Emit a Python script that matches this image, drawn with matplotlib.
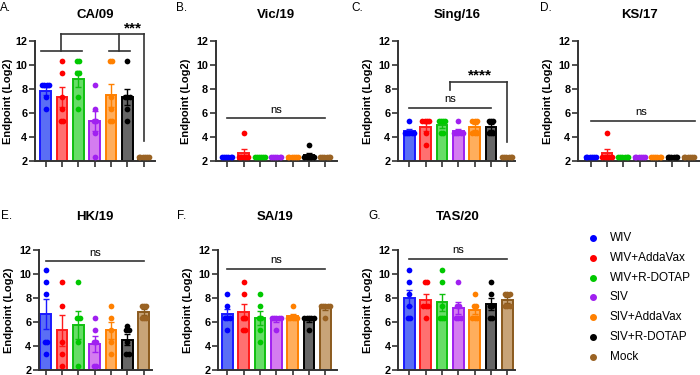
import numpy as np
import matplotlib
matplotlib.use("Agg")
import matplotlib.pyplot as plt
from matplotlib.lines import Line2D

plt.rcParams['font.family'] = ['Liberation Sans', 'DejaVu Sans']

groups = ["WIV", "WIV+AddaVax", "WIV+R-DOTAP", "SIV", "SIV+AddaVax", "SIV+R-DOTAP", "Mock"]
dot_colors = ["#0000ff", "#ff0000", "#00c800", "#a020f0", "#ff8000", "#000000", "#9a6324"]
fill_colors = ["#5a6ef5", "#ff7070", "#66dd66", "#d47cf0", "#ffae5c", "#666666", "#c8a478"]
edge_colors = ["#1a1aff", "#ff1a1a", "#10c010", "#a020f0", "#ff8000", "#000000", "#8b5a1e"]

titles = ["CA/09", "Vic/19", "Sing/16", "KS/17", "HK/19", "SA/19", "TAS/20"]
letters = ["A.", "B.", "C.", "D.", "E.", "F.", "G."]

ca09 = [[8.32, 8.32, 8.32, 8.32, 6.32, 7.32],
        [10.32, 9.32, 6.32, 5.32, 5.32, 7.32],
        [10.32, 10.32, 9.32, 9.32, 7.32, 6.32],
        [8.32, 6.32, 5.32, 4.32, 2.32, 5.32],
        [10.32, 10.32, 6.32, 5.32, 5.32, 7.32],
        [10.32, 7.32, 7.32, 6.32, 5.32, 7.32],
        [2.32, 2.32, 2.32, 2.32, 2.32, 2.32]]
vic19 = [[2.32] * 6,
         [4.32, 2.32, 2.32, 2.32, 2.32, 2.32],
         [2.32] * 6,
         [2.32] * 6,
         [2.32] * 6,
         [3.32, 2.32, 2.32, 2.32, 2.32, 2.32],
         [2.32] * 6]
sing16 = [[5.32, 4.32, 4.32, 4.32, 4.32, 4.32],
          [5.32, 5.32, 5.32, 5.32, 4.32, 3.32],
          [5.32, 5.32, 5.32, 5.32, 4.32, 4.32],
          [5.32, 4.32, 4.32, 4.32, 4.32, 4.32],
          [5.32, 5.32, 5.32, 4.32, 4.32, 4.32],
          [5.32, 5.32, 5.32, 4.32, 4.32, 4.32],
          [2.32] * 6]
ks17 = [[2.32] * 6,
        [4.32, 2.32, 2.32, 2.32, 2.32, 2.32],
        [2.32] * 6,
        [2.32] * 6,
        [2.32] * 6,
        [2.32] * 6,
        [2.32] * 6]
hk19 = [[10.32, 9.32, 8.32, 4.32, 4.32, 3.32],
        [9.32, 7.32, 4.32, 3.32, 2.32],
        [9.32, 6.32, 6.32, 4.32, 2.32],
        [6.32, 5.32, 4.32, 4.32, 2.32, 2.32],
        [7.32, 6.32, 5.32, 4.32, 3.32],
        [5.65, 5.32, 5.32, 4.32, 3.32, 3.32],
        [7.32, 7.32, 7.32, 6.32, 6.32, 6.32]]
sa19 = [[8.32, 7.32, 6.32, 6.32, 6.32, 5.32],
        [9.32, 8.32, 6.32, 6.32, 5.32, 5.32],
        [8.32, 7.32, 6.32, 6.32, 5.32, 4.32],
        [6.32, 6.32, 6.32, 6.32, 6.32, 5.32],
        [7.32, 6.32, 6.32, 6.32, 6.32, 6.32],
        [6.32, 6.32, 6.32, 6.32, 6.32, 5.32],
        [7.32, 7.32, 7.32, 7.32, 7.32, 6.32]]
tas20 = [[10.32, 9.32, 8.32, 7.32, 6.32, 6.32],
         [9.32, 9.32, 7.32, 7.32, 7.32, 6.32],
         [10.32, 9.32, 7.32, 6.32, 6.32, 6.32],
         [9.32, 7.32, 7.32, 6.32, 6.32, 6.32],
         [8.32, 7.32, 7.32, 6.32, 6.32, 6.32],
         [9.32, 8.32, 7.32, 7.32, 6.32, 6.32],
         [8.32, 8.32, 8.32, 7.32, 7.32, 7.32]]
datasets = [ca09, vic19, sing16, ks17, hk19, sa19, tas20]

W, H = 700, 375
fig = plt.figure(figsize=(7, 3.75), dpi=100)

# (left px, first bar center px, right px, top px)
unit = 16.35
layout = [(35, 45.6, 155, 41), (215.7, 227.3, 336.7, 41), (398, 409.3, 515, 41),
          (578, 590.7, 712, 41), (39, 45.7, 152, 250), (218.3, 227.3, 336.7, 250),
          (398.3, 409.3, 515, 250)]
title_x = [95, 276, 457, 640, 95, 275, 458]
letter_pos = [(0, 8), (176, 8), (351, 8), (540, 8), (1, 216), (177, 216), (368, 216)]
ax_h = 120
line_col = "#333333"

axes = []
for i, (L, c0, R, T) in enumerate(layout):
    ax = fig.add_axes([L / W, 1 - (T + ax_h) / H, (R - L) / W, ax_h / H])
    axes.append(ax)
    data = datasets[i]
    x = np.arange(len(groups))
    means = [np.mean(d) for d in data]
    sems = [np.std(d, ddof=1) / np.sqrt(len(d)) for d in data]
    ax.bar(x, [m - 2 for m in means], bottom=2, width=0.66, color=fill_colors,
           edgecolor=edge_colors, linewidth=1.4, zorder=2)
    for j in range(len(groups)):
        ax.errorbar(x[j], means[j], yerr=sems[j], color=edge_colors[j], capsize=2.5,
                    elinewidth=1.0, capthick=1.0, zorder=3)
        vals = np.array(data[j])
        uniq, counts = np.unique(vals, return_counts=True)
        for v, c in zip(uniq, counts):
            offs = (np.arange(c) - (c - 1) / 2) * 0.14
            offs = np.clip(offs, -0.3, 0.3)
            ax.scatter(x[j] + offs, [v] * c, s=17, color=dot_colors[j], zorder=4,
                       linewidths=0)
    ax.set_xlim((L - c0) / unit, (R - c0) / unit)
    ax.set_ylim(2, 12)
    ax.set_yticks([2, 4, 6, 8, 10, 12])
    ax.set_xticks(x)
    ax.set_xticklabels([])
    for s in ["top", "right"]:
        ax.spines[s].set_visible(False)
    for s in ["left", "bottom"]:
        ax.spines[s].set_linewidth(1.4)
        ax.spines[s].set_color(line_col)
    ax.tick_params(axis="both", length=4, width=1.2, color=line_col, direction="out")
    ax.tick_params(axis="y", labelsize=7.8, pad=1.5)
    for lab in ax.get_yticklabels():
        lab.set_fontweight("bold")
    ax.set_ylabel("Endpoint (Log2)", fontsize=8, fontweight="bold",
                  labelpad=2 if i == 0 else 4)
    fig.text(title_x[i] / W, 1 - (15 if i < 4 else 217) / H, titles[i], ha="center",
             va="center", fontsize=9.5, fontweight="bold")
    lx, ly = letter_pos[i]
    fig.text(lx / W, 1 - ly / H, letters[i], ha="left", va="center", fontsize=8.5)


def hline(ax, x0, x1, y):
    ax.plot([x0, x1], [y, y], color=line_col, lw=1.2, clip_on=False, zorder=5)


def vline(ax, x0, y0, y1):
    ax.plot([x0, x0], [y0, y1], color=line_col, lw=1.2, clip_on=False, zorder=5)


def ns(ax, x0, x1, y, ty, tx=3.0):
    hline(ax, x0, x1, y)
    ax.text(tx, ty, "ns", ha="center", va="center", fontsize=8, clip_on=False)


# A brackets
a = axes[0]
hline(a, -0.3, 2.2, 11.17)
vline(a, 0.95, 11.17, 12.56)
hline(a, 3.85, 5.15, 11.17)
vline(a, 4.5, 11.17, 12.56)
hline(a, 0.95, 6.0, 12.56)
vline(a, 6.0, 12.56, 3.67)
a.text(5.35, 13.05, "***", ha="center", va="center", fontsize=11, fontweight="bold")

ns(axes[1], 0, 6, 5.56, 6.25)
# C
c = axes[2]
ns(c, 0, 5, 6.44, 7.17, tx=2.5)
vline(c, 2.5, 7.92, 8.58)
hline(c, 2.5, 6.0, 8.58)
vline(c, 6.0, 8.58, 3.61)
c.text(4.3, 9.1, "****", ha="center", va="center", fontsize=11, fontweight="bold")
ns(axes[3], 0, 6.4, 5.36, 6.11, tx=3.1)
ns(axes[4], 0, 6, 11.1, 11.72)
ns(axes[5], 0, 6, 10.44, 11.17)
ns(axes[6], 0, 6, 11.25, 12.0)

# legend
for k, g in enumerate(groups):
    yy = 1 - (238 + k * 19.8) / H
    fig.add_artist(Line2D([593 / W], [yy], marker="o", markersize=4, color=dot_colors[k],
                          linestyle="none", transform=fig.transFigure))
    fig.text(610 / W, yy, g, ha="left", va="center", fontsize=8.5)

fig.savefig("out.png", dpi=100)
